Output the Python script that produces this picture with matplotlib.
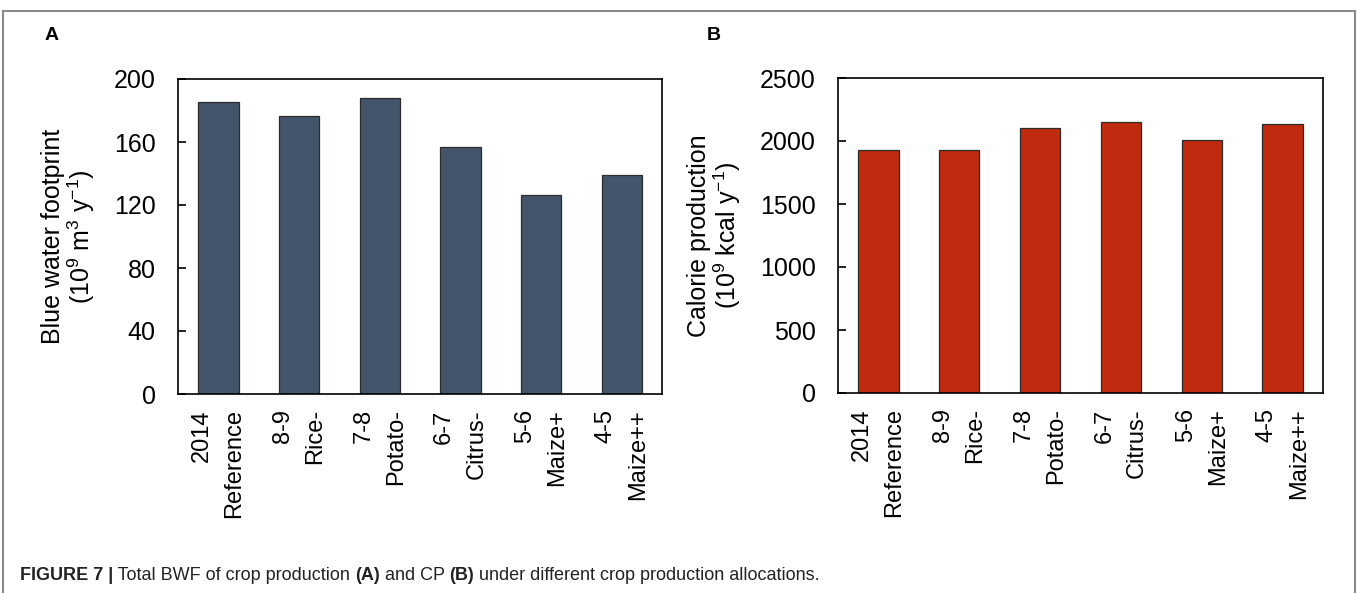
import matplotlib
matplotlib.use("Agg")
import matplotlib.pyplot as plt
from matplotlib.lines import Line2D

plt.rcParams['font.family'] = ['Liberation Sans', 'DejaVu Sans']
plt.rcParams['mathtext.fontset'] = 'custom'
plt.rcParams['mathtext.rm'] = 'Liberation Sans'
plt.rcParams['mathtext.it'] = 'Liberation Sans:italic'

scenarios = ['2014\nReference', '8-9\nRice-', '7-8\nPotato-', '6-7\nCitrus-',
             '5-6\nMaize+', '4-5\nMaize++']
bwf = [185.6, 176.5, 187.7, 156.6, 126.3, 138.8]
calorie = [1928, 1931, 2100, 2153, 2008, 2137]

bwf_ticks = [0, 40, 80, 120, 160, 200]
cal_ticks = [0, 500, 1000, 1500, 2000, 2500]

W, H = 1358, 593
fig = plt.figure(figsize=(W / 100, H / 100), dpi=100)


def setup_axes(ax, values, color, ticks, ylabel):
    x = range(len(values))
    ax.bar(x, values, width=0.5, color=color, edgecolor='#2b2b2b', linewidth=0.9)
    ax.set_xlim(-0.5, len(values) - 0.5)
    ax.set_ylim(ticks[0], ticks[-1])
    ax.set_yticks(ticks)
    ax.set_xticks(list(x))
    ax.set_xticklabels(scenarios, rotation=90, ha='center', va='top',
                       multialignment='right', fontsize=17, linespacing=1.6)
    ax.tick_params(axis='x', length=0, pad=11)
    ax.tick_params(axis='y', direction='in', length=6, width=1.2,
                   labelsize=18, pad=16)
    for sp in ax.spines.values():
        sp.set_linewidth(1.2)
    ax.set_ylabel(ylabel, fontsize=18, labelpad=12, linespacing=1.05)


ax1 = fig.add_axes([178 / W, 1 - 394 / H, 484 / W, 315 / H])
setup_axes(ax1, bwf, '#44546A', bwf_ticks,
           'Blue water footprint\n'
           r'(10$^{\mathregular{9}}$ m$^{\mathregular{3}}$ y$^{\mathregular{-1}}$)')

ax2 = fig.add_axes([838 / W, 1 - 393 / H, 485 / W, 315 / H])
setup_axes(ax2, calorie, '#C02A0F', cal_ticks,
           'Calorie production\n'
           r'(10$^{\mathregular{9}}$ kcal y$^{\mathregular{-1}}$)')

# panel letters
fig.text(45 / W, 1 - 35 / H, 'A', fontsize=14, fontweight='bold', va='center')
fig.text(707 / W, 1 - 35 / H, 'B', fontsize=14, fontweight='bold', va='center')

# frame around the figure (open at the bottom)
frame_kw = dict(color='#8a8a8a', linewidth=1.5, transform=fig.transFigure)
fig.add_artist(Line2D([3 / W, 3 / W], [0, 1 - 11 / H], **frame_kw))
fig.add_artist(Line2D([3 / W, 1355 / W], [1 - 11 / H, 1 - 11 / H], **frame_kw))
fig.add_artist(Line2D([1355 / W, 1355 / W], [0, 1 - 11 / H], **frame_kw))

# caption made of bold / normal pieces
caption = [('FIGURE 7 |', 'bold'), (' Total BWF of crop production ', 'normal'),
           ('(A)', 'bold'), (' and CP ', 'normal'), ('(B)', 'bold'),
           (' under different crop production allocations.', 'normal')]
renderer = fig.canvas.get_renderer()
xpos = 20
for piece, weight in caption:
    t = fig.text(xpos / W, 1 - 575 / H, piece, fontsize=13, fontweight=weight,
                 va='center', ha='left', color='#222222')
    bb = t.get_window_extent(renderer=renderer)
    xpos = bb.x1

fig.savefig('out.png', dpi=100)
